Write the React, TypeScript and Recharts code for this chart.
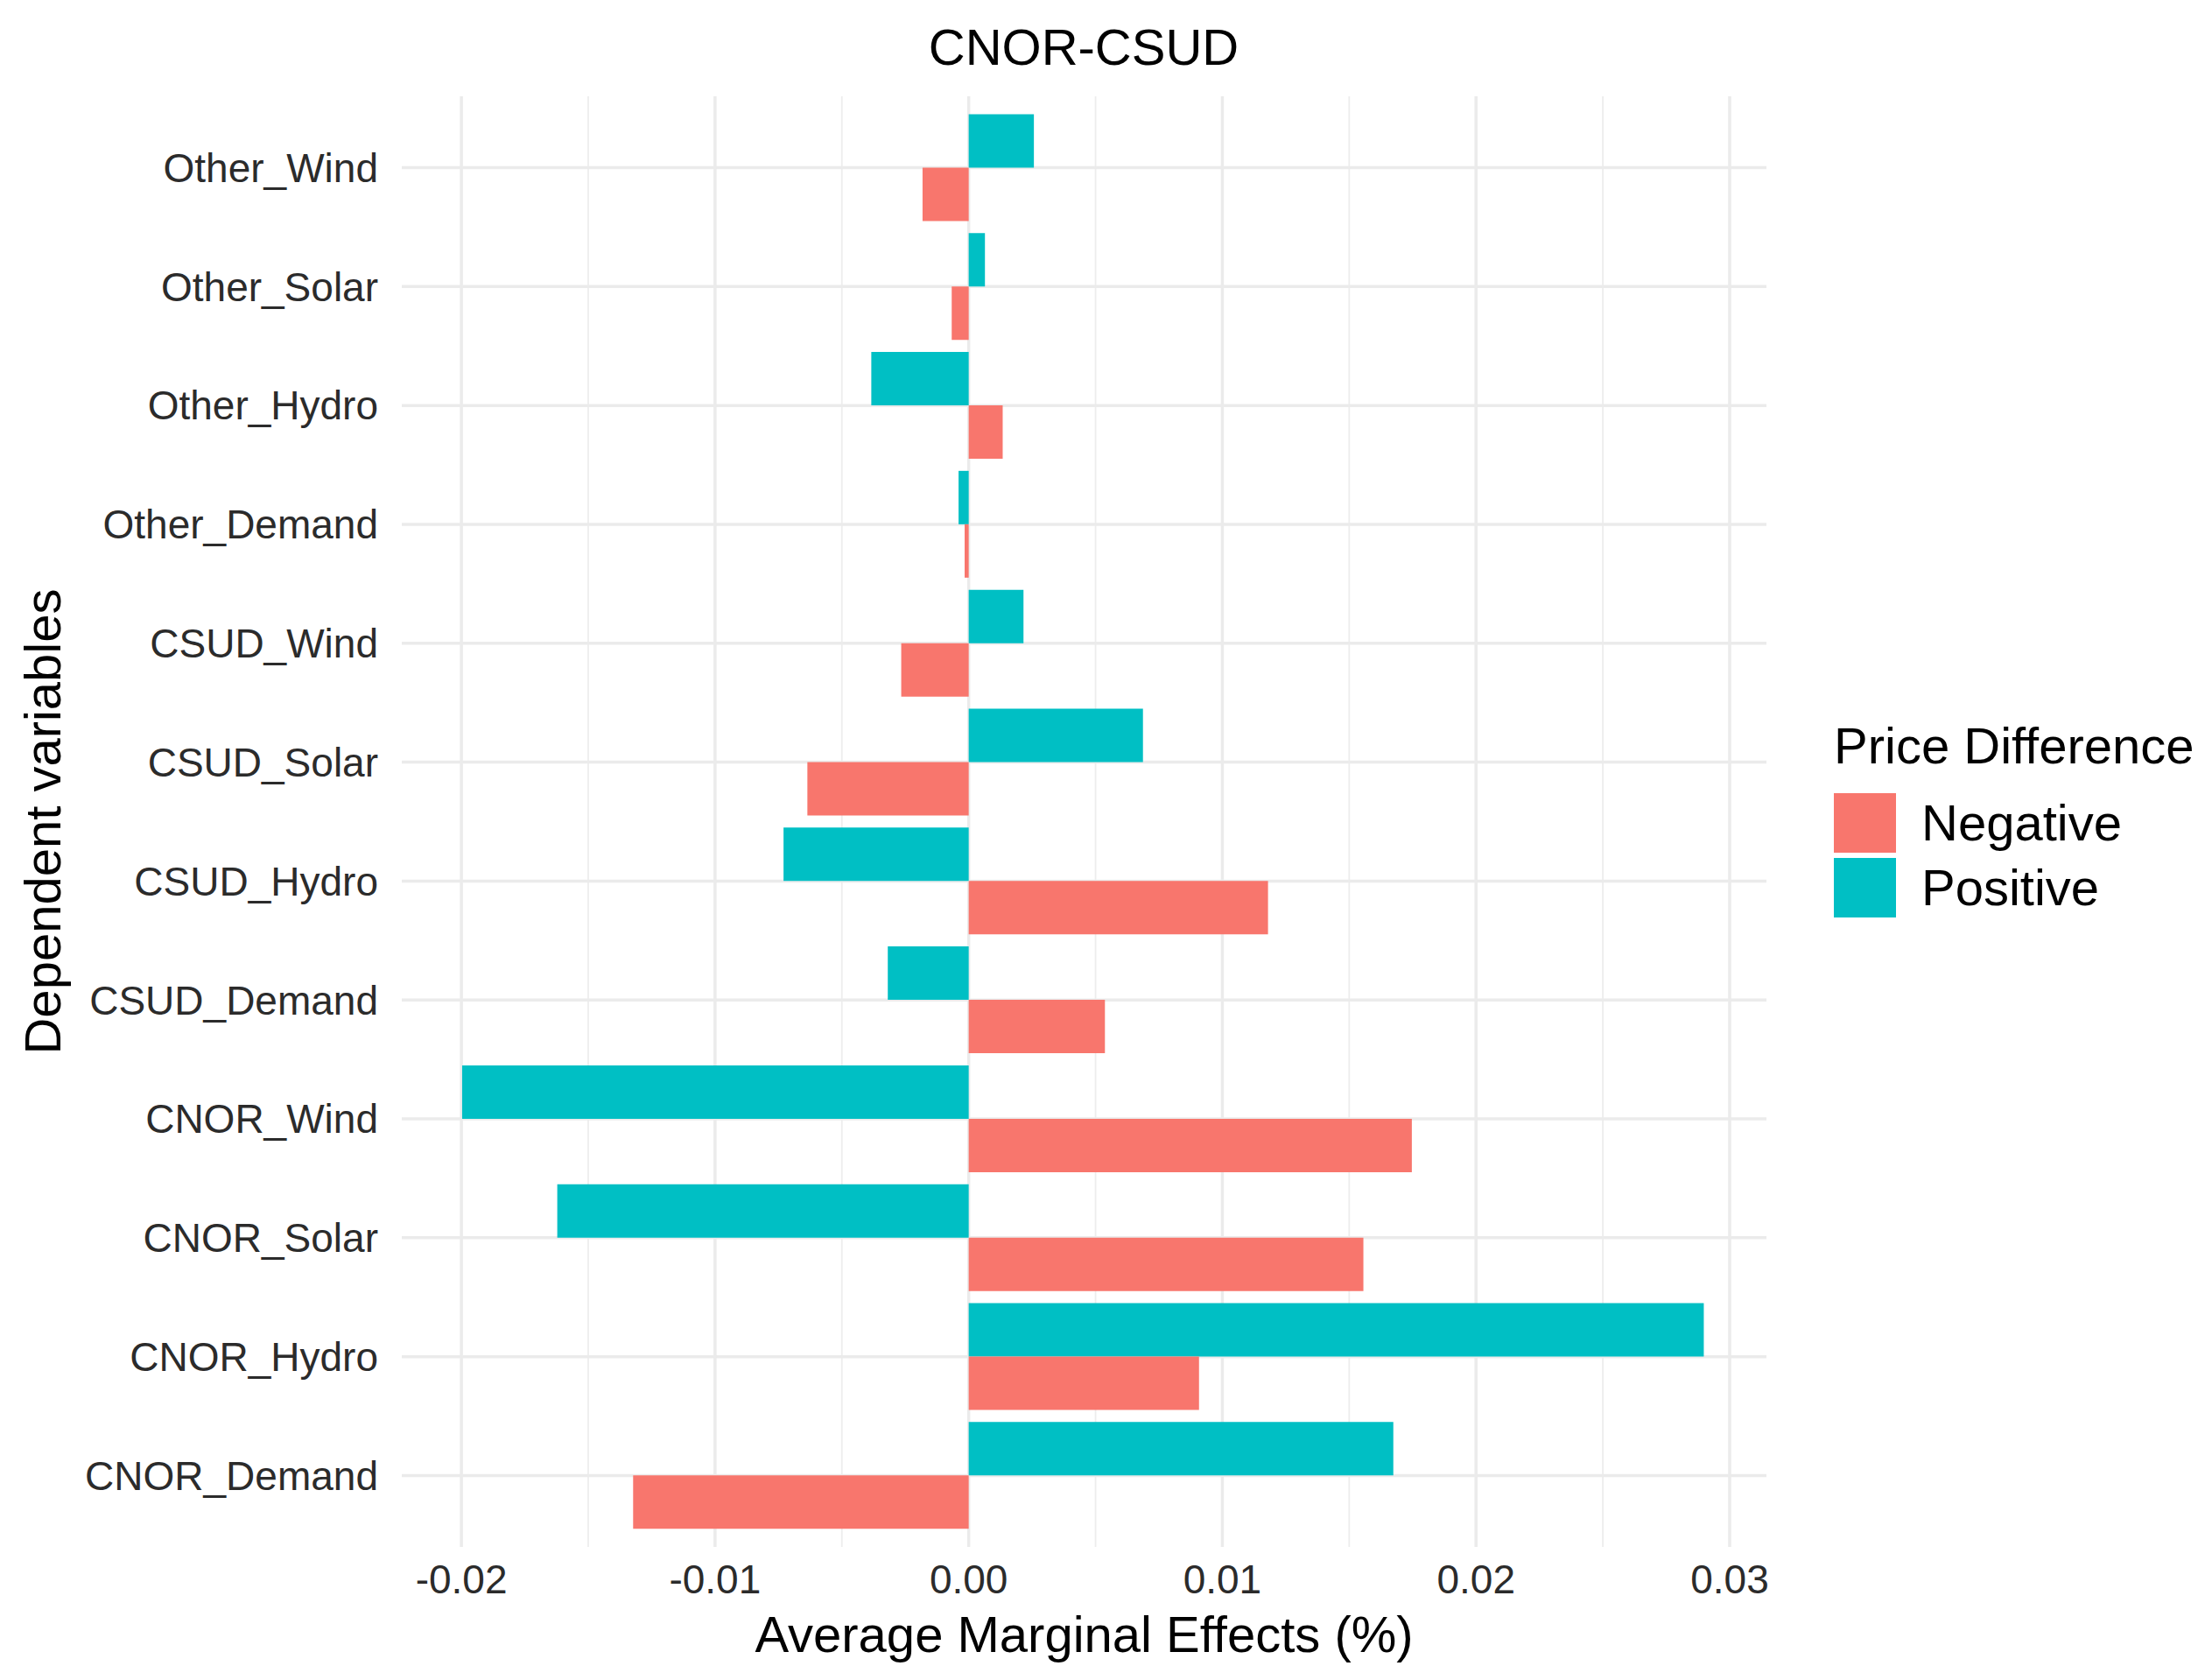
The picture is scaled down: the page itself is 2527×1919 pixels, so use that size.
import { Bar, BarChart, CartesianGrid, Legend, XAxis, YAxis } from "recharts"

const categories = [
  "Other_Wind", "Other_Solar", "Other_Hydro", "Other_Demand",
  "CSUD_Wind", "CSUD_Solar", "CSUD_Hydro", "CSUD_Demand",
  "CNOR_Wind", "CNOR_Solar", "CNOR_Hydro", "CNOR_Demand",
]
const positive = [0.00257, 0.00064, -0.00384, -0.0004, 0.00216, 0.00687, -0.0073, -0.00319, -0.01997, -0.01622, 0.02898, 0.01674]
const negative = [-0.00182, -0.00067, 0.00134, -0.00016, -0.00266, -0.00636, 0.0118, 0.00537, 0.01747, 0.01556, 0.00908, -0.01323]
const xTicks = [-0.02, -0.01, 0, 0.01, 0.02, 0.03]
const xMinor = [-0.015, -0.005, 0.005, 0.015, 0.025]
const xDomain = [-0.02235, 0.03145]
const yPad = 13.6

const RED = "#F8766D"
const TEAL = "#00BFC4"
const FONT = "'Liberation Sans', Arial, sans-serif"

const data = categories.map((name, i) => ({ name, Positive: positive[i], Negative: negative[i] }))

// x position of a value: use the axis scale when recharts hands it over
const xAt = (xAxis: any, offset: any, v: number) => {
  if (xAxis && typeof xAxis.scale === "function") return xAxis.scale(v)
  return offset.left + ((v - xDomain[0]) / (xDomain[1] - xDomain[0])) * offset.width
}

const majorX = ({ xAxis, offset }: any) => xTicks.map((v) => xAt(xAxis, offset, v))
const minorX = ({ xAxis, offset }: any) => xMinor.map((v) => xAt(xAxis, offset, v))
const catY = ({ yAxis, offset }: any) => {
  if (yAxis && typeof yAxis.scale === "function" && yAxis.scale.bandwidth) {
    const bw = yAxis.scale.bandwidth()
    return categories.map((c) => yAxis.scale(c) + bw / 2)
  }
  const band = (offset.height - 2 * yPad) / categories.length
  return categories.map((_, i) => offset.top + yPad + (i + 0.5) * band)
}

// ggplot-style legend: title, then Negative above Positive
function PriceLegend() {
  const items = [
    { label: "Negative", color: RED },
    { label: "Positive", color: TEAL },
  ]
  return (
    <div style={{ fontFamily: FONT, fontSize: 58, lineHeight: "58px", color: "#000" }}>
      <div style={{ whiteSpace: "nowrap" }}>Price Difference</div>
      <div style={{ marginTop: 25 }}>
        {items.map((it) => (
          <div key={it.label} style={{ display: "flex", alignItems: "center", marginBottom: 6 }}>
            <div style={{ width: 71, height: 68, background: it.color }} />
            <div style={{ marginLeft: 29, color: "#000" }}>{it.label}</div>
          </div>
        ))}
      </div>
    </div>
  )
}

export default function App() {
  const tick = { fill: "#2b2b2b", fontSize: 46, fontFamily: FONT }
  return (
    <div style={{ position: "absolute", left: 0, top: 0, width: 2527, height: 1919, background: "#fff", fontFamily: FONT }}>
      <div style={{
        position: "absolute", left: 0, width: 2476, top: 25, textAlign: "center",
        fontSize: 58, lineHeight: "58px", color: "#000",
      }}>
        CNOR-CSUD
      </div>
      <BarChart width={2527} height={1919} data={data} layout="vertical"
        margin={{ top: 110, right: 509, bottom: 0, left: 0 }}
        barCategoryGap="5%" barGap={0}>
        <CartesianGrid stroke="#EDEDED" strokeWidth={1.8} horizontal={false}
          verticalCoordinatesGenerator={minorX} />
        <CartesianGrid stroke="#EBEBEB" strokeWidth={3.5}
          verticalCoordinatesGenerator={majorX} horizontalCoordinatesGenerator={catY} />
        <XAxis type="number" domain={xDomain} ticks={xTicks} allowDataOverflow
          tickFormatter={(v) => Number(v).toFixed(2)}
          tick={tick} tickLine={false} axisLine={false} tickSize={0} tickMargin={20} height={152}
          label={{ value: "Average Marginal Effects (%)", position: "insideBottom", offset: 32, fill: "#000", fontSize: 58, fontFamily: FONT }} />
        <YAxis type="category" dataKey="name" width={459} padding={{ top: yPad, bottom: yPad }}
          tick={tick} tickLine={false} axisLine={false} tickSize={0} tickMargin={27} interval={0}
          label={{ value: "Dependent variables", angle: -90, position: "insideLeft", offset: 48, fill: "#000", fontSize: 58, fontFamily: FONT, style: { textAnchor: "middle" } }} />
        <Bar dataKey="Positive" fill={TEAL} isAnimationActive={false} />
        <Bar dataKey="Negative" fill={RED} isAnimationActive={false} />
        <Legend layout="vertical" align="center" verticalAlign="middle"
          wrapperStyle={{ left: 2095, top: 823, width: 432 }}
          content={() => <PriceLegend />} />
      </BarChart>
    </div>
  )
}
